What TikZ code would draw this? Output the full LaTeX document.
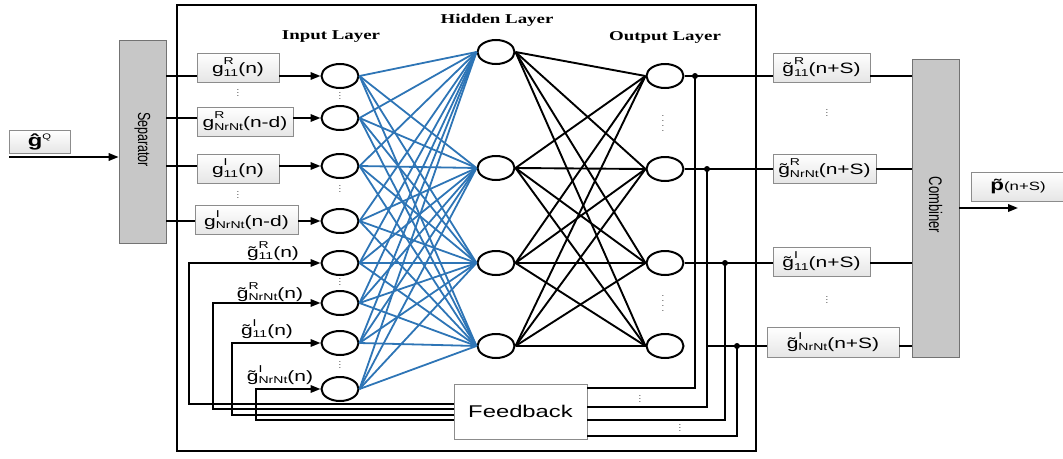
\documentclass[tikz,border=0pt]{standalone}
\usepackage{graphicx}
\usepackage{fontspec}
\setmainfont{Liberation Sans}[FakeStretch=1.4]
\newfontfamily\ttl{Liberation Serif}[FakeStretch=1.4]
\newfontfamily\rot{Liberation Sans}
\usetikzlibrary{arrows.meta,shapes.geometric}
\definecolor{nnblue}{RGB}{46,117,182}
\newcommand{\fs}[1]{\fontsize{#1}{#1}\selectfont}
\newcommand{\gl}[4]{#1\rlap{\raisebox{0.6em}{\fs{10}#2}}\raisebox{-0.15em}{\fs{10}#3}#4}
\newcommand{\dthree}{\vbox{\baselineskip3.2pt\lineskiplimit0pt\hbox{.}\hbox{.}\hbox{.}}}
\newcommand{\dfour}{\vbox{\baselineskip5pt\lineskiplimit0pt\hbox{.}\hbox{.}\hbox{.}\hbox{.}}}
\begin{document}
\begin{tikzpicture}[x=1pt,y=-1pt,
  neuron/.style={ellipse,draw,line width=2pt,fill=white,minimum width=37pt,minimum height=24pt,inner sep=0pt},
  lbox/.style={draw=black!45,line width=0.8pt,top color=white,bottom color=black!10,minimum height=29pt,inner sep=0pt,font=\fs{15}},
  bar/.style={draw=black!55,fill=black!22,line width=0.8pt,inner sep=0pt},
  conn/.style={line width=1.9pt,black},
  arr/.style={conn,-{Triangle[length=10pt,width=7.5pt]}},
  bl/.style={line width=1.8pt,nnblue},
  title/.style={font=\ttl\bfseries\fs{13.5}},
  lab/.style={font=\fs{15},inner sep=0pt},
  vd/.style={font=\fs{8},text=black!70,inner sep=0pt},
  jdot/.style={circle,fill=black,inner sep=0pt,minimum size=6pt}]
\useasboundingbox (0,0) rectangle (1063,458);
% frame
\node[draw,line width=2pt,minimum width=579pt,minimum height=446pt,inner sep=0pt] (frame) at (466.5,228) {};
% titles
\node[title] (tIn) at (331,37) {Input Layer};
\node[title] (tHid) at (497,20) {Hidden Layer};
\node[title] (tOut) at (665,37) {Output Layer};
% left side
\node[lbox,minimum width=61pt,minimum height=23pt] (GQ) at (39.5,141.5) {\textbf{\fs{17}ĝ}\raisebox{0.45em}{\fs{8}Q}};
\node[bar,minimum width=47pt,minimum height=203pt] (S) at (142.5,141.5) {};
\node[rotate=-90,font=\rot\fs{12.5}] (Stxt) at (142.5,139.5) {\scalebox{1}[1.4]{Separator}};
\node[lbox,minimum width=82pt] (B1) at (238,67.5) {\gl{g}{R}{11}{(n)}};
\node[lbox,minimum width=96pt] (B2) at (245,121.5) {\gl{g}{R}{NrNt}{(n-d)}};
\node[lbox,minimum width=82pt] (B3) at (238,168.5) {\gl{g}{I}{11}{(n)}};
\node[lbox,minimum width=103pt] (B4) at (246.5,220) {\gl{g}{I}{NrNt}{(n-d)}};
\node[vd] (vb1) at (238,93) {\dthree};
\node[vd] (vb2) at (238,195) {\dthree};
% neurons
\foreach \n/\y in {1/76,2/118,3/166,4/221,5/263,6/303,7/343,8/389}
  \node[neuron] (I\n) at (340,\y) {};
\foreach \n/\y in {1/52,2/168,3/263,4/346}
  \node[neuron] (H\n) at (496,\y) {};
\foreach \n/\y in {1/76,2/169,3/263,4/346}
  \node[neuron] (O\n) at (665,\y) {};
\node[vd] (vi1) at (340,96) {\dthree};
\node[vd] (vi2) at (340,189) {\dthree};
\node[vd] (vi3) at (340,282) {\dthree};
\node[vd] (vi4) at (340,365) {\dthree};
\node[vd] (vo1) at (663,124) {\dfour};
\node[vd] (vo2) at (663,304) {\dfour};
% feedback labels
\node[lab] (f1) at (273,251) {\gl{\~g}{R}{11}{(n)}};
\node[lab] (f2) at (270,292) {\gl{\~g}{R}{NrNt}{(n)}};
\node[lab] (f3) at (267,329) {\gl{\~g}{I}{11}{(n)}};
\node[lab] (f4) at (280,375) {\gl{\~g}{I}{NrNt}{(n)}};
% feedback box
\node[draw=black!45,line width=0.8pt,fill=white,minimum width=133pt,minimum height=55pt,font=\fs{17}] (FB) at (520.5,411.5) {Feedback};
\node[vd] (vf1) at (640,399) {\dthree};
\node[vd] (vf2) at (680,428) {\dthree};
% output boxes
\node[lbox,minimum width=97pt] (OB1) at (821.5,67.5) {\gl{\~g}{R}{11}{(n+S)}};
\node[lbox,minimum width=103pt] (OB2) at (824.5,168.5) {\gl{\~g}{R}{NrNt}{(n+S)}};
\node[lbox,minimum width=97pt] (OB3) at (821.5,261.5) {\gl{\~g}{I}{11}{(n+S)}};
\node[lbox,minimum width=132pt,minimum height=30pt] (OB4) at (833,342) {\gl{\~g}{I}{NrNt}{(n+S)}};
\node[vd] (vob1) at (827,113) {\dthree};
\node[vd] (vob2) at (827,300) {\dthree};
\node[bar,minimum width=47pt,minimum height=298pt] (C) at (935.5,208) {};
\node[rotate=-90,font=\rot\fs{13}] (Ctxt) at (935.5,205) {\scalebox{1}[1.4]{Combiner}};
\node[lbox,minimum width=94pt] (P) at (1018,186.5) {\textbf{\fs{16}\~p}\fs{12}(n+S)};
% input arrow
\coordinate (gin) at (9,157);
\draw[arr] (gin) -- (gin -| S.west);
% separator to boxes to neurons
\foreach \n in {1,2,3,4} {
  \draw[conn] (S.east |- I\n) -- (B\n.west |- I\n);
  \draw[arr] (B\n.east |- I\n) -- (I\n.west);
}
% network connections
\foreach \i in {1,...,8} \foreach \j in {1,...,4} \draw[bl] (I\i.east) -- (H\j.west);
\foreach \j in {1,...,4} \foreach \k in {1,...,4} \draw[conn] (H\j.east) -- (O\k.west);
% feedback loops (left)
\coordinate (L1) at (189,404);
\coordinate (L2) at (213,409);
\coordinate (L3) at (232,415);
\coordinate (L4) at (256,420);
\draw[arr] (L1 -| FB.west) -- (L1) |- (I5.west);
\draw[arr] (L2 -| FB.west) -- (L2) |- (I6.west);
\draw[arr] (L3 -| FB.west) -- (L3) |- (I7.west);
\draw[arr] (L4 -| FB.west) -- (L4) |- (I8.west);
% junctions and feedback (right)
\coordinate (D1) at (695,76);
\coordinate (D2) at (707,169);
\coordinate (D3) at (725,263);
\coordinate (D4) at (737,346);
\coordinate (R1) at (695,388);
\coordinate (R2) at (707,407);
\coordinate (R3) at (725,420);
\coordinate (R4) at (737,436);
\draw[conn] (R1 -| FB.east) -- (R1) -- (D1);
\draw[conn] (R2 -| FB.east) -- (R2) -- (D2);
\draw[conn] (R3 -| FB.east) -- (R3) -- (D3);
\draw[conn] (R4 -| FB.east) -- (R4) -- (D4);
% outputs
\draw[conn] (O1.east) -- (OB1.west |- O1);
\draw[conn] (O2.east) -- (OB2.west |- O2);
\draw[conn] (O3.east) -- (OB3.west |- O3);
\draw[conn] (D2 |- O4) -- (OB4.west |- O4);
\draw[conn] (OB1.east |- O1) -- (C.west |- O1);
\draw[conn] (OB2.east |- O2) -- (C.west |- O2);
\draw[conn] (OB3.east |- O3) -- (C.west |- O3);
\draw[conn] (OB4.east |- O4) -- (C.west |- O4);
\foreach \d in {D1,D2,D3,D4} \node[jdot] at (\d) {};
% combiner output
\coordinate (pout) at (1018,208);
\draw[arr] (C.east |- pout) -- (pout);
\end{tikzpicture}
\end{document}
